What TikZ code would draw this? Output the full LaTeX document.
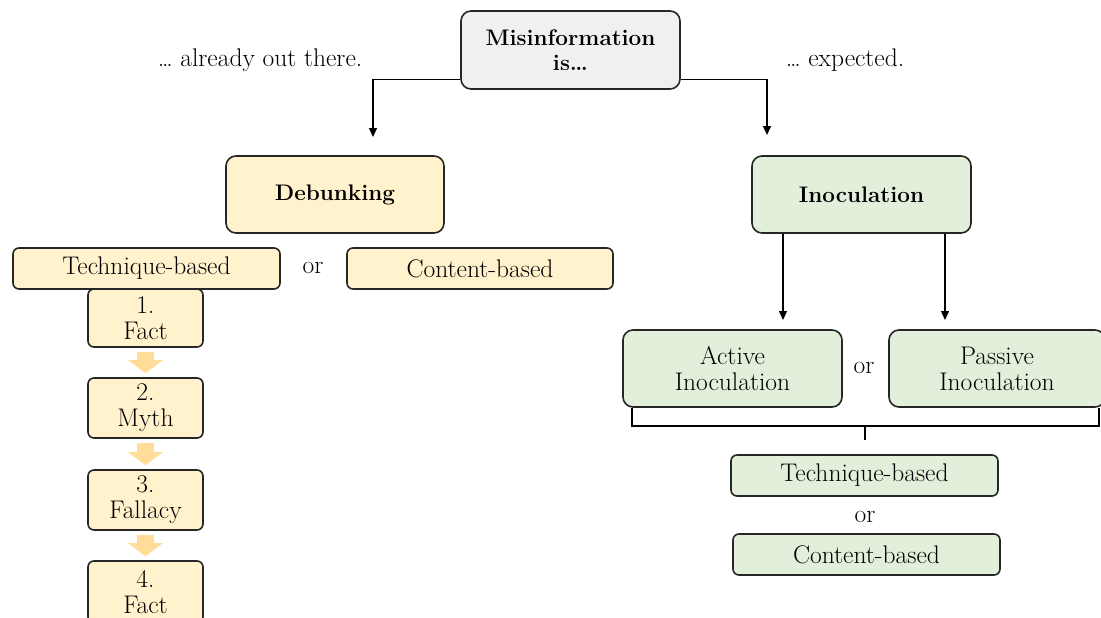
\documentclass[tikz,border=0pt]{standalone}
\usepackage{fontspec}
\usetikzlibrary{arrows.meta,calc}
\definecolor{greyfill}{HTML}{F0F0F0}
\definecolor{yellowfill}{HTML}{FFF2CC}
\definecolor{greenfill}{HTML}{E2EFDA}
\definecolor{steparrow}{HTML}{FFDD99}
\begin{document}
\begin{tikzpicture}[x=1pt,y=-1pt,
  box/.style={draw=black!85,line width=1.6pt,rounded corners=10pt,align=center,
    inner sep=0pt,font=\fontsize{25.5}{26}\selectfont},
  smallbox/.style={box,rounded corners=6pt},
  headbox/.style={box,font=\fontsize{22.5}{25}\selectfont\bfseries},
  conn/.style={draw=black,line width=1.4pt,-{Triangle[width=8pt,length=9pt]}},
  plain/.style={draw=black,line width=1.6pt},
  stepflow/.style={draw=steparrow,line width=17pt,
    -{Triangle[width=34pt,length=13pt]},shorten <=4pt,shorten >=4pt},
  lbl/.style={font=\fontsize{25.5}{26}\selectfont,inner sep=0pt}]
\useasboundingbox (0,0) rectangle (1101,618);

% top node and the two outcomes
\node[headbox,fill=greyfill,minimum width=219pt,minimum height=78pt] (mis) at (570.5,50)
  {Misinformation\\is\dots};
\node[lbl] (outthere) at (260,60) {\dots{} already out there.};
\node[lbl] (expected) at (845,60) {\dots{} expected.};

\node[headbox,fill=yellowfill,minimum width=218pt,minimum height=77pt] (deb) at (335,194.5)
  {Debunking};
\node[headbox,fill=greenfill,minimum width=219pt,minimum height=77pt] (ino) at (861.5,194.5)
  {Inoculation};

\coordinate (dl) at (373,137);
\coordinate (dr) at (767,135);
\draw[conn] ([yshift=10pt]mis.south west) -| (dl);
\draw[conn] ([yshift=10pt]mis.south east) -| (dr);

% debunking branch
\node[smallbox,fill=yellowfill,minimum width=115pt,minimum height=58pt] (f1) at (145.5,318)
  {1.\\Fact};
\node[smallbox,fill=yellowfill,minimum width=267pt,minimum height=41pt] (techl) at (146.5,268.5)
  {Technique-based};
\node[lbl] (orl) at (313,268) {or};
\node[smallbox,fill=yellowfill,minimum width=266pt,minimum height=41pt] (contl) at (480,268.5)
  {Content-based};
\node[smallbox,fill=yellowfill,minimum width=115pt,minimum height=60pt] (f2) at (145.5,408)
  {2.\\Myth};
\node[smallbox,fill=yellowfill,minimum width=115pt,minimum height=60pt] (f3) at (145.5,500)
  {3.\\Fallacy};
\node[smallbox,fill=yellowfill,minimum width=115pt,minimum height=62pt] (f4) at (145.5,592)
  {4.\\Fact};

\draw[stepflow] (f1.south) -- (f2.north);
\draw[stepflow] (f2.south) -- (f3.north);
\draw[stepflow] (f3.south) -- (f4.north);

% inoculation branch
\node[box,fill=greenfill,minimum width=219pt,minimum height=77pt] (act) at (732.5,368.5)
  {Active\\Inoculation};
\node[lbl] (ori) at (864,368) {or};
\node[box,fill=greenfill,minimum width=216pt,minimum height=77pt] (pas) at (997,368.5)
  {Passive\\Inoculation};

\coordinate (ia) at (783,320);
\coordinate (ib) at (945,320);
\draw[conn] (ino.south -| ia) -- (ia);
\draw[conn] (ino.south -| ib) -- (ib);

\node[smallbox,fill=greenfill,minimum width=267pt,minimum height=41pt] (techr) at (864.5,475.5)
  {Technique-based};
\node[lbl] (orr) at (865,517) {or};
\node[smallbox,fill=greenfill,minimum width=267pt,minimum height=41pt] (contr) at (866.5,554.5)
  {Content-based};

% bracket joining both inoculation types
\coordinate (stem) at (865,425);
\draw[plain] ([xshift=10pt]act.south west) -- ++(0,18) -| ([xshift=-7pt]pas.south east);
\draw[plain] (stem) -- ++(0,15);
\end{tikzpicture}
\end{document}
